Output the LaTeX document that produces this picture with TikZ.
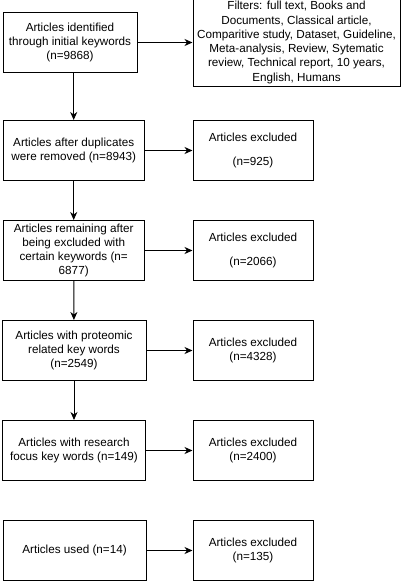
\documentclass[tikz,border=0pt]{standalone}
\usepackage{fontspec}
\setmainfont{Liberation Sans}
\usepackage{tikz}
\usetikzlibrary{positioning,arrows.meta}
\tikzset{
    stage/.style={rectangle, draw=black, line width=1pt, fill=white, align=center,
        minimum width=141pt, minimum height=60pt, inner sep=2pt,
        font=\fontsize{11.7}{14.3}\selectfont},
    stage box/.style={stage},
    excluded box/.style={stage, minimum width=120pt},
    filter box/.style={stage, minimum width=207pt, minimum height=88pt},
    flow arrow/.style={-{Stealth[length=8pt, width=7pt, inset=2.5pt]}, line width=1pt, black}
}

\begin{document}
\begin{tikzpicture}[x=1pt, y=-1pt]
    \useasboundingbox (0,0) rectangle (404,581);

    % Main stages - left column
    \node[stage box, minimum width=134pt] (ident) at (70,42.5) {Articles identified\\through initial keywords\\(n=9868)};
    \node[stage box] (dupl) at (73.7,150.5) {Articles after duplicates\\were removed (n=8943)};
    \node[stage box] (keyw) at (73.7,250.5) {Articles remaining after\\being excluded with\\certain keywords (n=\\6877)};
    \node[stage box, minimum width=144pt] (prot) at (74,350.5) {Articles with proteomic\\related key words\\(n=2549)};
    \node[stage box, minimum width=143pt] (focus) at (74,450.5) {Articles with research\\focus key words (n=149)};
    \node[stage box, minimum width=143pt] (used) at (74.5,550.5) {Articles used (n=14)};

    % Filters and exclusions - right column (filter box runs past the top edge)
    \node[filter box] (filt) at (296.5,42.5) {Filters: full text, Books and\\Documents, Classical article,\\Comparitive study, Dataset, Guideline,\\Meta-analysis, Review, Sytematic\\review, Technical report, 10 years,\\English, Humans};
    \node[excluded box] (excl1) at (253,150.5) {Articles excluded\\[9.7pt](n=925)};
    \node[excluded box] (excl2) at (253,250.5) {Articles excluded\\[9.7pt](n=2066)};
    \node[excluded box] (excl3) at (253,350.5) {Articles excluded\\(n=4328)};
    \node[excluded box] (excl4) at (253,450.5) {Articles excluded\\(n=2400)};
    \node[excluded box] (excl5) at (253,550.5) {Articles excluded\\(n=135)};

    % Downward flow
    \draw[flow arrow] (ident.south -| dupl.north) -- (dupl.north);
    \draw[flow arrow] (dupl) -- (keyw);
    \draw[flow arrow] (keyw) -- (prot);
    \draw[flow arrow] (prot) -- (focus);

    % Sideways flow
    \draw[flow arrow] (ident.east) -- (filt.west);
    \draw[flow arrow] (dupl) -- (excl1);
    \draw[flow arrow] (keyw) -- (excl2);
    \draw[flow arrow] (prot) -- (excl3);
    \draw[flow arrow] (focus) -- (excl4);
    \draw[flow arrow] (used) -- (excl5);
\end{tikzpicture}
\end{document}
